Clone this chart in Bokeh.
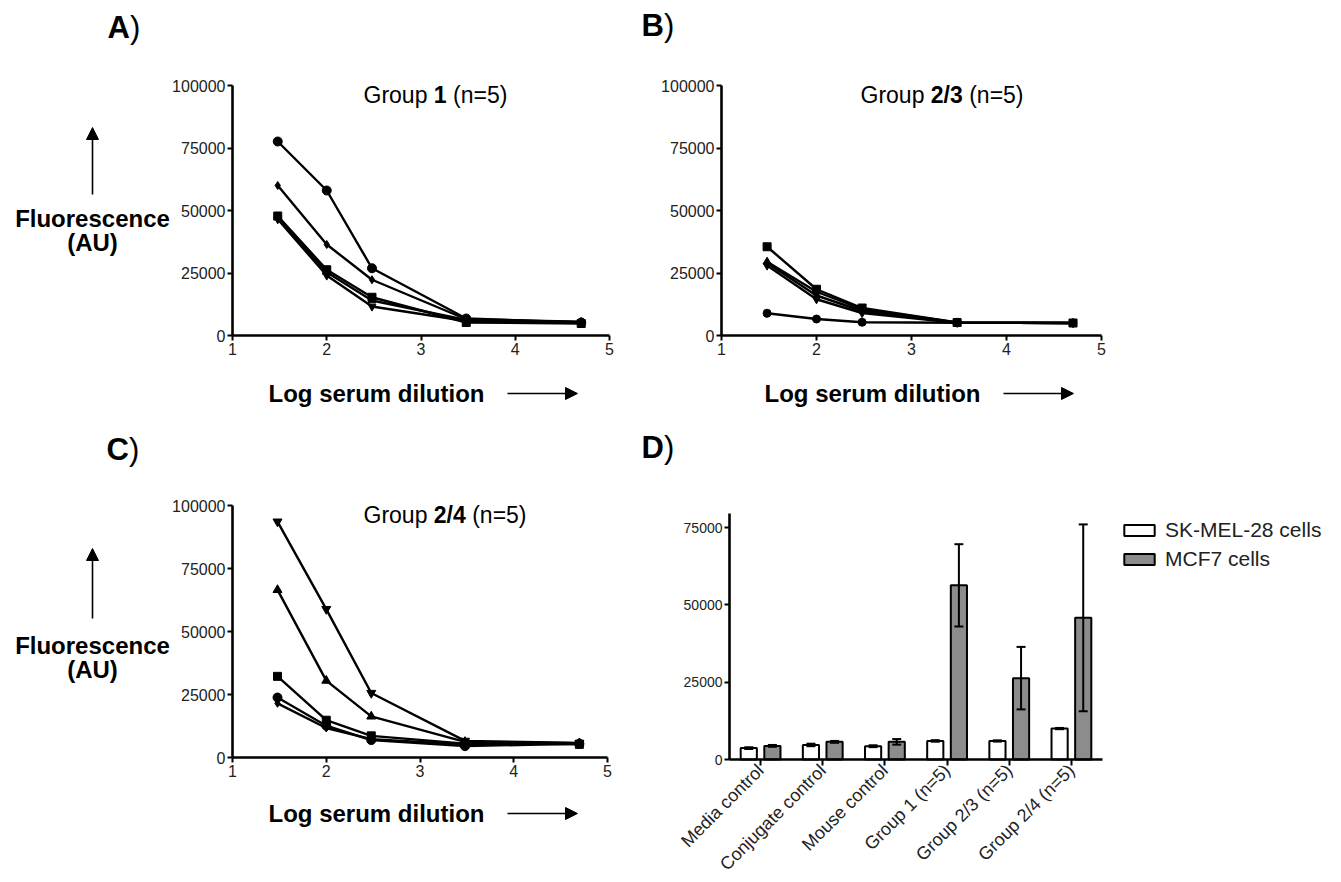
from math import pi
from bokeh.plotting import figure
from bokeh.layouts import column, row
from bokeh.models import (ColumnDataSource, FixedTicker, BasicTickFormatter, Label, Arrow,
                          NormalHead, Whisker, TeeHead, Legend, LegendItem, LinearAxis, Range1d)
from bokeh.transform import dodge
from bokeh.embed import file_html
from bokeh.resources import INLINE

# ---------------- data ----------------
dil_x = [1.48, 2.0, 2.48, 3.48, 4.7]

a_circle = [77600, 58000, 26900, 6800, 5200]
a_diamond = [60000, 36400, 22300, 6500, 5500]
a_square = [47800, 26300, 15300, 5200, 4800]
a_triangle = [47200, 25300, 14000, 6200, 5300]
a_inv_triangle = [46500, 24000, 11600, 5800, 5300]

b_square = [35500, 18500, 11000, 5200, 5000]
b_triangle = [29500, 17500, 10500, 5200, 5000]
b_diamond = [29000, 16000, 9800, 5100, 5000]
b_inv_triangle = [28000, 14500, 9000, 5100, 5000]
b_circle = [8900, 6600, 5300, 5100, 5000]

c_inv_triangle = [93600, 58900, 25600, 6600, 5800]
c_triangle = [66500, 30500, 16300, 6200, 5700]
c_square = [32200, 14800, 8600, 5500, 5200]
c_circle = [23800, 12600, 6900, 4500, 5500]
c_diamond = [21500, 11700, 7300, 5200, 5600]

d_categories = ["Media control", "Conjugate control", "Mouse control",
                "Group 1 (n=5)", "Group 2/3 (n=5)", "Group 2/4 (n=5)"]
d_skmel = [3700, 4700, 4300, 6000, 6000, 10000]
d_skmel_err = [300, 400, 300, 250, 200, 200]
d_mcf7 = [4400, 5700, 5700, 56300, 26300, 45800]
d_mcf7_err = [300, 300, 900, 13300, 10100, 30200]

x_ticks = [1, 2, 3, 4, 5]
y_ticks = [0, 25000, 50000, 75000, 100000]
d_y_ticks = [0, 25000, 50000, 75000]

FONT = "Liberation Sans"
TICK_COLOR = "#222222"

W_REG = {" ": 278, "(": 333, ")": 333, "=": 584, "/": 278, "G": 778, "r": 333,
         "o": 556, "u": 556, "p": 556, "n": 556}
W_BOLD = {" ": 278, "/": 278, "A": 722, "B": 722, "C": 722, "D": 722}


def text_w(s, bold, size):
    t = W_BOLD if bold else W_REG
    return sum(t.get(ch, 556) for ch in s) * size / 1000.0


def span_range(v0, p0, v1, p1, lo, hi):
    """Range whose ends map to page pixels lo..hi, given value v0 at page p0 and v1 at p1."""
    k = (v1 - v0) / (p1 - p0)
    return Range1d(v0 + (lo - p0) * k, v0 + (hi - p0) * k)


class Panel:
    """A figure whose frame fills its whole canvas at page box (L, T, R, B)."""

    def __init__(self, L, T, R, B, xmap, ymap):
        self.L, self.T, self.R, self.B = L, T, R, B
        xr = span_range(*xmap, L, R)
        yr = span_range(*ymap, B, T)
        self.fig = figure(width=R - L, height=B - T, frame_width=R - L, frame_height=B - T,
                          x_range=xr, y_range=yr, output_backend="svg", toolbar_location=None,
                          x_axis_location=None, y_axis_location=None,
                          min_border=0, min_border_left=0, min_border_right=0,
                          min_border_top=0, min_border_bottom=0)
        p = self.fig
        p.xgrid.visible = False
        p.ygrid.visible = False
        p.outline_line_color = None

    def sx(self, X):
        return X - self.L

    def sy(self, Y):
        return self.B - Y

    def label(self, X, Y, text, size, bold=False, align="left", color="black"):
        # Y is the vertical middle of the text line (page pixels)
        self.fig.add_layout(Label(x=self.sx(X), y=self.sy(Y), x_units="screen", y_units="screen",
                                  text=text, text_font=FONT, text_font_size=f"{size}px",
                                  text_font_style="bold" if bold else "normal",
                                  text_align=align, text_baseline="middle",
                                  text_color=color))

    def rich(self, X, Y, pieces, size, color="black"):
        x = X
        for s, b in pieces:
            lead = len(s) - len(s.lstrip(" "))
            x += text_w(s[:lead], b, size)
            core = s.strip(" ")
            self.label(x, Y, core, size, bold=b, color=color)
            x += text_w(s[lead:], b, size)

    def arrow(self, X0, Y0, X1, Y1):
        self.fig.add_layout(Arrow(x_start=self.sx(X0), y_start=self.sy(Y0),
                                  x_end=self.sx(X1), y_end=self.sy(Y1),
                                  start_units="screen", end_units="screen",
                                  line_color="black", line_width=1.6,
                                  end=NormalHead(size=12, fill_color="black", line_color="black",
                                                 line_width=1)))

    def axes(self, x_fixed, x_bounds, y_fixed, y_bounds, x_ticks_, y_ticks_, tick_size="16px"):
        xa = LinearAxis(fixed_location=x_fixed, bounds=x_bounds, ticker=FixedTicker(ticks=x_ticks_))
        ya = LinearAxis(fixed_location=y_fixed, bounds=y_bounds, ticker=FixedTicker(ticks=y_ticks_),
                        formatter=BasicTickFormatter(use_scientific=False))
        for ax in (xa, ya):
            ax.axis_line_width = 2.6
            ax.axis_line_color = "black"
            ax.major_tick_line_width = 2
            ax.major_tick_line_color = "black"
            ax.major_tick_in = 0
            ax.major_tick_out = 5
            ax.minor_tick_line_color = None
            ax.major_label_text_font = FONT
            ax.major_label_text_font_size = tick_size
            ax.major_label_text_color = TICK_COLOR
            ax.major_label_standoff = 2
        self.fig.add_layout(xa, "below")
        self.fig.add_layout(ya, "left")
        return xa, ya


def line_panel(L, T, R, B, x1px, x5px, y0px, y100px, series):
    pan = Panel(L, T, R, B, (1, x1px, 5, x5px), (0, y0px, 100000, y100px))
    pan.axes(0, (1, 5), 1, (0, 100000), x_ticks, y_ticks)
    p = pan.fig
    for ys, marker, size in series:
        p.line(dil_x, ys, line_color="black", line_width=2.4)
        p.scatter(dil_x, ys, marker=marker, size=size, fill_color="black", line_color="black")
    return pan


ROW_SPLIT = 425   # page y where the lower row of panels begins
PAGE_BOTTOM = 880

# ---------------- panel A ----------------
A = line_panel(0, 0, 640, ROW_SPLIT, 232, 609, 335, 85, [
    (a_circle, "circle", 9), (a_diamond, "diamond", 8), (a_square, "square", 8),
    (a_triangle, "triangle", 8), (a_inv_triangle, "inverted_triangle", 8)])
A.rich(107, 27, [("A", True), (")", False)], 31)
A.rich(363, 94, [("Group ", False), ("1", True), (" (n=5)", False)], 23)
A.label(92, 218, "Fluorescence", 24, bold=True, align="center")
A.label(92, 242, "(AU)", 24, bold=True, align="center")
A.arrow(92, 194, 92, 127)
A.label(268, 393, "Log serum dilution", 24, bold=True)
A.arrow(507, 393, 577, 393)

# ---------------- panel B ----------------
B = line_panel(640, 0, 1340, ROW_SPLIT, 721, 1101, 335, 85, [
    (b_square, "square", 8), (b_triangle, "triangle", 8), (b_diamond, "diamond", 8),
    (b_inv_triangle, "inverted_triangle", 8), (b_circle, "circle", 8)])
B.rich(641, 25, [("B", True), (")", False)], 31)
B.rich(860, 94, [("Group ", False), ("2/3", True), (" (n=5)", False)], 23)
B.label(764, 393, "Log serum dilution", 24, bold=True)
B.arrow(1003, 393, 1073, 393)

# ---------------- panel C ----------------
C = line_panel(0, ROW_SPLIT, 640, PAGE_BOTTOM, 232, 607, 757, 505, [
    (c_inv_triangle, "inverted_triangle", 9), (c_triangle, "triangle", 9),
    (c_square, "square", 8), (c_circle, "circle", 9), (c_diamond, "diamond", 8)])
C.rich(106, 449, [("C", True), (")", False)], 31)
C.rich(363, 514, [("Group ", False), ("2/4", True), (" (n=5)", False)], 23)
C.label(92, 645, "Fluorescence", 24, bold=True, align="center")
C.label(92, 669, "(AU)", 24, bold=True, align="center")
C.arrow(92, 618, 92, 548)
C.label(268, 813, "Log serum dilution", 24, bold=True)
C.arrow(507, 813, 577, 813)

# ---------------- panel D ----------------
d_pos = [i + 0.5 for i in range(len(d_categories))]
src = ColumnDataSource(dict(
    pos=d_pos,
    sk=d_skmel, sk_lo=[v - e for v, e in zip(d_skmel, d_skmel_err)],
    sk_hi=[v + e for v, e in zip(d_skmel, d_skmel_err)],
    mcf=d_mcf7, mcf_lo=[v - e for v, e in zip(d_mcf7, d_mcf7_err)],
    mcf_hi=[v + e for v, e in zip(d_mcf7, d_mcf7_err)],
))
D = Panel(640, ROW_SPLIT, 1340, PAGE_BOTTOM, (0, 729, len(d_categories), 1102), (0, 759, 75000, 527))
xa, ya = D.axes(0, (0, len(d_categories)), 0, (0, 79500), d_pos, d_y_ticks, tick_size="14px")
xa.major_label_overrides = {p_: c for p_, c in zip(d_pos, d_categories)}
xa.major_label_text_font_size = "18px"
xa.major_label_orientation = pi / 4
xa.major_tick_out = 6
pD = D.fig

r_sk = pD.vbar(x=dodge("pos", -0.19), top="sk", width=0.26, source=src,
               fill_color="white", line_color="black", line_width=2)
r_mcf = pD.vbar(x=dodge("pos", 0.19), top="mcf", width=0.26, source=src,
                fill_color="#8c8c8c", line_color="black", line_width=2)
for col, off in (("sk", -0.19), ("mcf", 0.19)):
    pD.add_layout(Whisker(source=src, base=dodge("pos", off), level="annotation",
                          upper=f"{col}_hi", lower=f"{col}_lo", line_width=2, line_color="black",
                          upper_head=TeeHead(size=9, line_width=2, line_color="black"),
                          lower_head=TeeHead(size=9, line_width=2, line_color="black")))

legend = Legend(items=[LegendItem(label="SK-MEL-28 cells", renderers=[r_sk]),
                       LegendItem(label="MCF7 cells", renderers=[r_mcf])],
                location=(D.sx(1120), D.sy(571)), glyph_width=38, glyph_height=14, spacing=5,
                padding=5, margin=0, label_standoff=7, label_text_font=FONT,
                label_text_font_size="21px", label_text_color=TICK_COLOR,
                border_line_color=None, background_fill_alpha=0)
pD.add_layout(legend)
D.rich(641, 447, [("D", True), (")", False)], 31)

layout = column(row(A.fig, B.fig), row(C.fig, D.fig))
open("out.html", "w").write(file_html(layout, INLINE))
